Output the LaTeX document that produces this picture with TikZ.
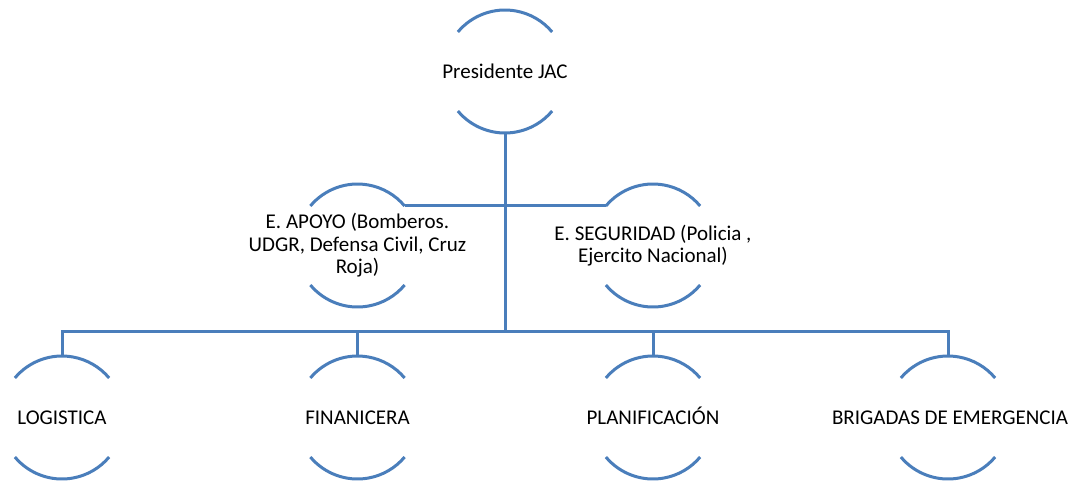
\documentclass[tikz,border=0pt]{standalone}
\usepackage{fontspec}
\setmainfont{Carlito}
\usetikzlibrary{calc}
\definecolor{linkblue}{RGB}{74,126,187}
\newcommand\arcpair[1]{%
  \draw[arcline] ([shift={(140:61.5)}]#1.center) arc[start angle=140,end angle=40,radius=61.5];
  \draw[arcline] ([shift={(220:61.5)}]#1.center) arc[start angle=220,end angle=320,radius=61.5];}
\begin{document}
\begin{tikzpicture}[x=1pt,y=1pt,
  lbl/.style={inner sep=0pt,align=center,font=\fontsize{21}{22.5}\selectfont,text=black},
  one/.style={lbl,text height=13.5pt,text depth=0pt},
  arcline/.style={draw=linkblue,line width=3pt},
  conn/.style={draw=linkblue,line width=3pt}]
\useasboundingbox[fill=white] (0,0) rectangle (1086,-480);
\node[one] (pres) at (505,-71.5) {Presidente JAC};
\node[lbl] (apoyo) at (357.5,-245.5) {E. APOYO (Bomberos.\\UDGR, Defensa Civil, Cruz\\Roja)};
\node[lbl] (seg) at (653,-245.5) {E. SEGURIDAD (Policia ,\\Ejercito Nacional)};
\node[one] (logi) at (62,-417.5) {LOGISTICA};
\node[one] (fin) at (357.5,-417.5) {FINANICERA};
\node[one] (plan) at (653,-417.5) {PLANIFICACIÓN};
\node[one] (brig) at (950,-417.5) {BRIGADAS DE EMERGENCIA};
\coordinate (brigc) at (948,-417.5);
\arcpair{pres}\arcpair{apoyo}\arcpair{seg}\arcpair{logi}\arcpair{fin}\arcpair{plan}\arcpair{brigc}
\coordinate (presbot) at ($(pres.center)+(0,-61.5)$);
\coordinate (hub) at (505,-331);
\coordinate (apoyoend) at ($(apoyo.center)+(40:61.5)$);
\coordinate (segend) at ($(seg.center)+(140:61.5)$);
\coordinate (logitop) at ($(logi.center)+(0,61.5)$);
\coordinate (fintop) at ($(fin.center)+(0,61.5)$);
\coordinate (plantop) at ($(plan.center)+(0,61.5)$);
\coordinate (brigtop) at ($(brigc)+(0,61.5)$);
\draw[conn] (presbot) -- (hub);
\draw[conn] (apoyoend) -- (segend);
\draw[conn] (logitop) -- (logitop |- hub) -- (brigtop |- hub) -- (brigtop);
\draw[conn] (fintop) -- (fintop |- hub);
\draw[conn] (plantop) -- (plantop |- hub);
\end{tikzpicture}
\end{document}
